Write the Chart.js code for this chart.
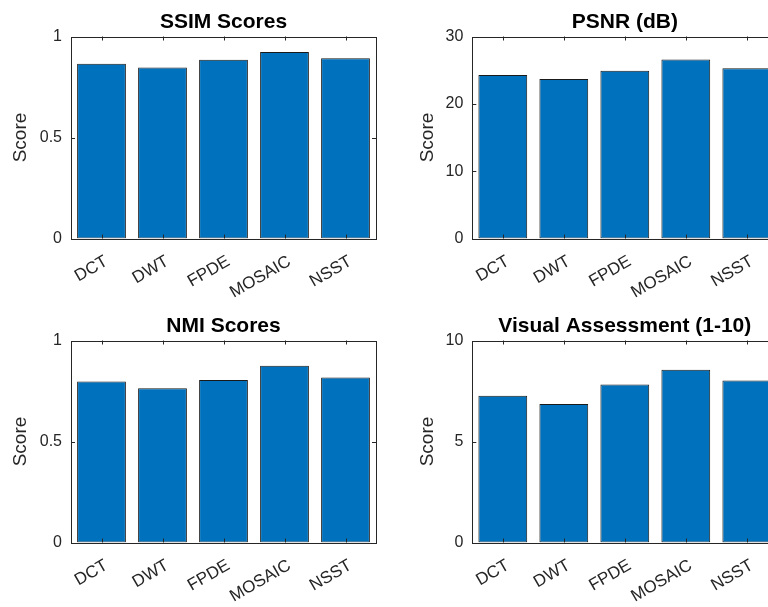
<!DOCTYPE html>
<html>
<head>
<meta charset="utf-8">
<script src="https://cdn.jsdelivr.net/npm/chart.js@4/dist/chart.umd.min.js"></script>
<style>
  html, body { margin: 0; padding: 0; background: #fff; }
  #fig { position: relative; width: 768px; height: 607px; overflow: hidden; background: #fff; }
  #fig canvas { position: absolute; }
</style>
</head>
<body>
<div id="fig">
  <canvas id="ssim" width="384" height="303" style="left:0px;top:0px"></canvas>
  <canvas id="psnr" width="400" height="303" style="left:384px;top:0px"></canvas>
  <canvas id="nmi" width="384" height="303" style="left:0px;top:304px"></canvas>
  <canvas id="visual" width="400" height="303" style="left:384px;top:304px"></canvas>
</div>
<script>
// Fusion methods compared
const methods = ['DCT', 'DWT', 'FPDE', 'MOSAIC', 'NSST'];

// Metric values per method
const ssimScores = [0.865, 0.846, 0.885, 0.923, 0.892];
const psnrScores = [24.3, 23.7, 24.9, 26.6, 25.3];
const nmiScores = [0.797, 0.764, 0.804, 0.875, 0.817];
const visualScores = [7.26, 6.86, 7.82, 8.55, 8.02];

// Y axis limits and tick steps
const ssimAxis = [0, 1, 0.5];
const psnrAxis = [0, 30, 10];
const nmiAxis = [0, 1, 0.5];
const visualAxis = [0, 10, 5];

const TEXT = '#262626';
const BAR = '#0072BD';
const FONT = 'Liberation Sans, Arial, Helvetica, sans-serif';

// Box around the plot area with inward tick marks on all four sides
const axesBox = {
  id: 'axesBox',
  afterDraw(chart) {
    const { ctx, chartArea: a, scales } = chart;
    ctx.save();
    ctx.strokeStyle = TEXT;
    ctx.lineWidth = 1;
    ctx.strokeRect(Math.round(a.left) + 0.5, Math.round(a.top) + 0.5,
                   Math.round(a.right - a.left), Math.round(a.bottom - a.top));
    const len = 4;
    ctx.beginPath();
    scales.x.ticks.forEach((t, i) => {
      const px = Math.round(scales.x.getPixelForTick(i)) + 0.5;
      ctx.moveTo(px, a.bottom); ctx.lineTo(px, a.bottom - len);
      ctx.moveTo(px, a.top); ctx.lineTo(px, a.top + len);
    });
    scales.y.ticks.forEach((t, i) => {
      const py = Math.round(scales.y.getPixelForTick(i)) + 0.5;
      ctx.moveTo(a.left, py); ctx.lineTo(a.left + len, py);
      ctx.moveTo(a.right, py); ctx.lineTo(a.right - len, py);
    });
    ctx.stroke();
    ctx.restore();
  }
};

function makePanel(id, title, values, axis, geom) {
  const canvas = document.getElementById(id);
  const W = canvas.width, H = canvas.height;
  return new Chart(canvas, {
    type: 'bar',
    data: {
      labels: methods,
      datasets: [{
        data: values,
        backgroundColor: BAR,
        borderColor: '#1a1a1a',
        borderWidth: 1,
        borderSkipped: false,
        barPercentage: 0.8,
        categoryPercentage: 1.0
      }]
    },
    options: {
      responsive: false,
      animation: false,
      devicePixelRatio: 1,
      layout: { padding: { left: 0, right: W - geom.right, top: 0, bottom: 0 } },
      plugins: {
        legend: { display: false },
        tooltip: { enabled: false },
        title: {
          display: true,
          text: title,
          color: '#000',
          fullSize: false,
          font: { family: FONT, size: 21, weight: 'bold', lineHeight: 1.2 },
          padding: { top: geom.top - 27.2, bottom: 2 }
        }
      },
      scales: {
        x: {
          grid: { display: false, drawTicks: false },
          border: { display: false },
          ticks: {
            color: TEXT,
            autoSkip: false,
            minRotation: 30,
            maxRotation: 30,
            padding: 13,
            labelOffset: 5,
            font: { family: FONT, size: 17 }
          },
          afterFit(scale) { scale.height = H - geom.bottom; }
        },
        y: {
          min: axis[0],
          max: axis[1],
          grid: { display: false, drawTicks: false },
          border: { display: false },
          ticks: {
            stepSize: axis[2],
            color: TEXT,
            padding: 9,
            font: { family: FONT, size: 16 },
            callback: (v) => String(v)
          },
          title: {
            display: true,
            text: 'Score',
            color: TEXT,
            padding: { top: geom.labelPad, bottom: 0 },
            font: { family: FONT, size: 19, lineHeight: 1.2 }
          },
          afterFit(scale) { scale.width = geom.left; }
        }
      }
    },
    plugins: [axesBox]
  });
}

const leftGeom = { left: 71, right: 376, top: 36.5, bottom: 238.5, labelPad: 9 };
const rightGeom = { left: 88.3, right: 393.3, top: 36.5, bottom: 238.5, labelPad: 32.5 };

makePanel('ssim', 'SSIM Scores', ssimScores, ssimAxis, leftGeom);
makePanel('psnr', 'PSNR (dB)', psnrScores, psnrAxis, rightGeom);
makePanel('nmi', 'NMI Scores', nmiScores, nmiAxis, leftGeom);
makePanel('visual', 'Visual Assessment (1-10)', visualScores, visualAxis, rightGeom);
</script>
</body>
</html>
